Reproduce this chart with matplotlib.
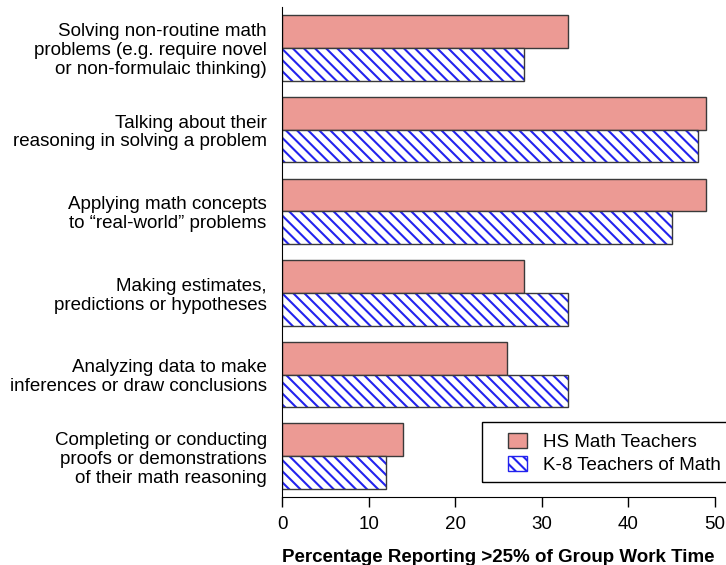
import matplotlib
matplotlib.use("Agg")
import matplotlib.pyplot as plt
from matplotlib.patches import Rectangle, Patch
import numpy as np

plt.rcParams['font.family'] = ['Liberation Sans', 'DejaVu Sans']
plt.rcParams['hatch.linewidth'] = 1.5

categories = [
    "Solving non-routine math\nproblems (e.g. require novel\nor non-formulaic thinking)",
    "Talking about their\nreasoning in solving a problem",
    "Applying math concepts\nto \u201creal-world\u201d problems",
    "Making estimates,\npredictions or hypotheses",
    "Analyzing data to make\ninferences or draw conclusions",
    "Completing or conducting\nproofs or demonstrations\nof their math reasoning",
]
hs_values = [33, 49, 49, 28, 26, 14]
k8_values = [28, 48, 45, 33, 33, 12]
series_names = ["HS Math Teachers", "K-8 Teachers of Math"]
xticks = [0, 10, 20, 30, 40, 50]

FS = 13.5
HS_COLOR = "#EC9A94"
HATCH_COLOR = "#2222ee"
HATCH = "\\\\\\"
EDGE = "#3a3a3a"
W, H = 726, 565
fig = plt.figure(figsize=(W/100, H/100), dpi=100)
ax = fig.add_axes([282/W, 1 - 497/H, 433/W, 490/H])

y = np.arange(len(categories))
h = 0.4
ax.barh(y - h/2, hs_values, height=h, color=HS_COLOR, edgecolor=EDGE, linewidth=1.0)
# hatch layer (hatch takes the edge colour), then outline layer
ax.barh(y + h/2, k8_values, height=h, color="white", edgecolor=HATCH_COLOR,
        hatch=HATCH, linewidth=0)
ax.barh(y + h/2, k8_values, height=h, fill=False, edgecolor=EDGE, linewidth=1.0)

ax.set_ylim(5.5, -0.5)
ax.set_xlim(0, 50)
ax.set_yticks(y)
ax.set_yticklabels(categories, fontsize=FS, linespacing=1.15)
ax.tick_params(axis='y', length=0, pad=11)
ax.set_xticks(xticks)
ax.set_xticklabels([str(t) for t in xticks], fontsize=FS)
ax.tick_params(axis='x', direction='out', length=7, width=1, color='black', pad=7)
for s in ['top', 'right']:
    ax.spines[s].set_visible(False)
ax.spines['left'].set_color('black')
ax.spines['bottom'].set_color('black')
ax.set_xlabel("Percentage Reporting >25% of Group Work Time", fontsize=FS,
              fontweight='bold', labelpad=11)

h1 = Patch(facecolor=HS_COLOR, edgecolor=EDGE, linewidth=1.0)
h2 = Patch(facecolor="white", edgecolor=HATCH_COLOR, hatch=HATCH, linewidth=1.0)
leg = fig.legend(handles=[h1, h2], labels=series_names,
                 loc='upper left', bbox_to_anchor=(490/W, 1 - 415/H), fontsize=FS,
                 frameon=False, handlelength=1.0, handleheight=0.9,
                 handletextpad=0.9, borderpad=0.45, labelspacing=0.25)
fig.patches.append(Rectangle((482/W, 1 - 482/H), 260/W, 60/H, transform=fig.transFigure,
                             fill=False, edgecolor='black', linewidth=1.0))

fig.savefig("out.png", dpi=100)
